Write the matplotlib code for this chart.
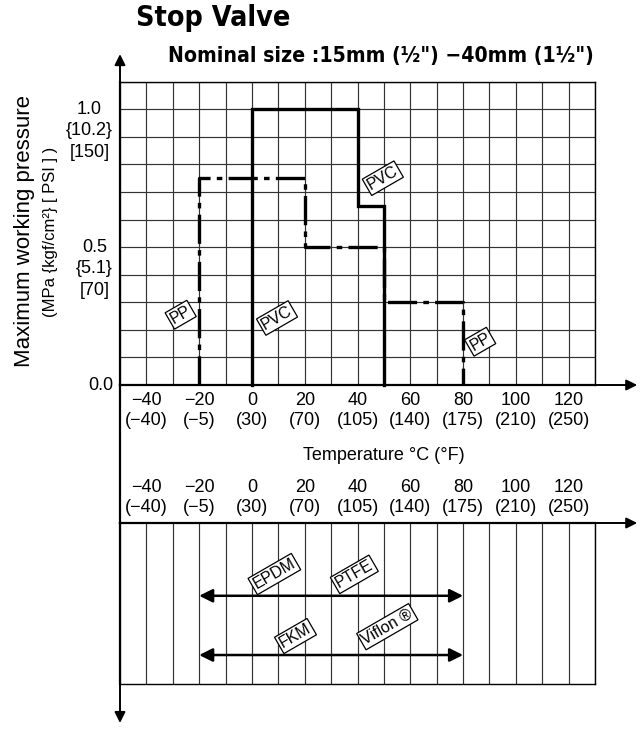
import numpy as np
import matplotlib
matplotlib.use("Agg")
import matplotlib.pyplot as plt
from matplotlib import font_manager

# values
temps_c = [-40, -20, 0, 20, 40, 60, 80, 100, 120]
temps_f = [-40, -5, 30, 70, 105, 140, 175, 210, 250]

press_ticks = [0.0, 0.5, 1.0]
press_labels = ["0.0", "0.5\n{5.1}\n[70]", "1.0\n{10.2}\n[150]"]

pvc_temp = [0, 0, 40, 40, 50, 50]
pvc_press = [0, 1.0, 1.0, 0.65, 0.65, 0]

pp_temp = [-20, -20, 20, 20, 50, 50, 80, 80]
pp_press = [0, 0.75, 0.75, 0.5, 0.5, 0.3, 0.3, 0]

seal_rows = [("EPDM", "PTFE"), ("FKM", "Viflon ®")]
seal_min = [-20, -20]
seal_max = [80, 80]

W, H = 643, 729
plt.rcParams['font.family'] = ['Liberation Sans', 'DejaVu Sans']
plt.rcParams['lines.scale_dashes'] = False

# look for a narrow bold face for the titles
title_font = None
for f in font_manager.fontManager.ttflist:
    fn = f.fname.lower()
    if ('narrow' in fn or 'condensed' in fn) and 'bold' in fn and 'oblique' not in fn \
            and 'italic' not in fn:
        title_font = font_manager.FontProperties(fname=f.fname)
        break
if title_font is None:
    title_font = font_manager.FontProperties(family='Liberation Sans', weight='bold')


def frac(x0, y0, x1, y1):
    # pixel box -> figure fraction
    return [x0 / W, 1 - y1 / H, (x1 - x0) / W, (y1 - y0) / H]


def fit_text(t, width_px, max_size):
    # shrink a text until it is width_px wide
    r = fig.canvas.get_renderer()
    t.set_fontsize(max_size)
    w = t.get_window_extent(r).width
    if w > width_px:
        t.set_fontsize(max_size * width_px / w)


fig = plt.figure(figsize=(W / 100, H / 100), dpi=100)
t1 = fig.text(136 / W, 1 - 18 / H, "Stop Valve", fontproperties=title_font,
              va='center', ha='left')
fit_text(t1, 154, 26)
t2 = fig.text(168 / W, 1 - 56 / H, 'Nominal size :15mm (½") −40mm (1½")',
              fontproperties=title_font, va='center', ha='left')
fit_text(t2, 425, 19)

grid_kw = dict(color='#333333', lw=0.85)
xt_labels = [f"{c}\n({f})".replace("-", "−") for c, f in zip(temps_c, temps_f)]

# ---- pressure / temperature chart
ax = fig.add_axes(frac(120, 81.7, 595, 385))
ax.set_xlim(-50, 130)
ax.set_ylim(0, 1.1)
ax.set_xticks(np.arange(-50, 131, 10), minor=True)
ax.set_yticks(np.arange(0, 1.11, 0.1), minor=True)
ax.set_xticks(temps_c, labels=xt_labels)
ax.set_yticks(press_ticks, labels=[])
ax.grid(which='both', **grid_kw)
ax.tick_params(which='both', length=0, labelsize=13, pad=5)
ax.set_axisbelow(True)
for s in ax.spines.values():
    s.set_linewidth(1.0)
ax.spines['left'].set_linewidth(1.6)
ax.spines['bottom'].set_linewidth(1.6)

for v, lab in zip(press_ticks, press_labels):
    ax.annotate(lab, xy=(0, v), xycoords=('axes fraction', 'data'), xytext=(-5, 6),
                textcoords='offset points', ha='right', va='top', fontsize=13,
                multialignment='center', linespacing=1.35)

ax.text(-0.2, 0.508, "Maximum working pressure", rotation=90, transform=ax.transAxes,
        ha='center', va='center', fontsize=16)
ax.text(-0.147, 0.504, "(MPa {kgf/cm²} [ PSI ] )", rotation=90, transform=ax.transAxes,
        ha='center', va='center', fontsize=12)

pp_line, = ax.plot(pp_temp, pp_press, color='k', lw=2.4, solid_capstyle='butt',
                   dash_capstyle='butt', clip_on=False)
pp_line.set_dashes([21, 4.5, 4, 4.5])
ax.plot(pvc_temp, pvc_press, color='k', lw=2.4, solid_joinstyle='miter', clip_on=False)

box = dict(boxstyle='square,pad=0.12', fc='white', ec='k', lw=0.9)
for txt, x, y in [("PP", -27, 0.255), ("PVC", 9.5, 0.243), ("PVC", 49.6, 0.75), ("PP", 86.5, 0.157)]:
    ax.text(x, y, txt, rotation=30, ha='center', va='center', fontsize=11.5, bbox=box,
            rotation_mode='anchor')

arrow_kw = dict(arrowstyle='-|>', color='k', lw=1.4, mutation_scale=16, shrinkA=0, shrinkB=0)
ax.annotate('', xy=(146, 0), xytext=(130, 0), arrowprops=arrow_kw, annotation_clip=False)
ax.annotate('', xy=(-50, 1.2), xytext=(-50, 1.1), arrowprops=arrow_kw, annotation_clip=False)
ax.plot([-50, -50], [0, -0.502], color='k', lw=1.6, clip_on=False)

ax.text(50, -0.255, "Temperature °C (°F)", ha='center', va='center', fontsize=13)

# ---- seal material chart
ax2 = fig.add_axes(frac(120, 523, 595, 684))
ax2.set_xlim(-50, 130)
ax2.set_ylim(0, 1)
ax2.set_xticks(np.arange(-50, 131, 10), minor=True)
ax2.set_xticks(temps_c, labels=xt_labels)
ax2.set_yticks([])
ax2.xaxis.tick_top()
ax2.grid(which='both', axis='x', **grid_kw)
ax2.tick_params(which='both', length=0, labelsize=13, pad=5)
for s in ax2.spines.values():
    s.set_linewidth(1.0)
ax2.spines['left'].set_linewidth(1.6)
ax2.spines['top'].set_linewidth(1.6)
ax2.annotate('', xy=(146, 1), xytext=(130, 1), arrowprops=arrow_kw, annotation_clip=False)
ax2.annotate('', xy=(-50, -0.242), xytext=(-50, 0), arrowprops=arrow_kw, annotation_clip=False)

row_y = [0.548, 0.18]
label_pos = [[(8.5, 0.683), (38.8, 0.681)], [(16.5, 0.298), (51.3, 0.356)]]
for (a, b), lo, hi, y, pos in zip(seal_rows, seal_min, seal_max, row_y, label_pos):
    ax2.annotate('', xy=(hi, y), xytext=(lo, y),
                 arrowprops=dict(arrowstyle='<|-|>', color='k', lw=1.8, mutation_scale=20,
                                 shrinkA=0, shrinkB=0))
    for txt, (x, yy) in zip((a, b), pos):
        ax2.text(x, yy, txt, rotation=30, ha='center', va='center', fontsize=11.5, bbox=box,
                 rotation_mode='anchor')

fig.savefig("out.png", dpi=100)
